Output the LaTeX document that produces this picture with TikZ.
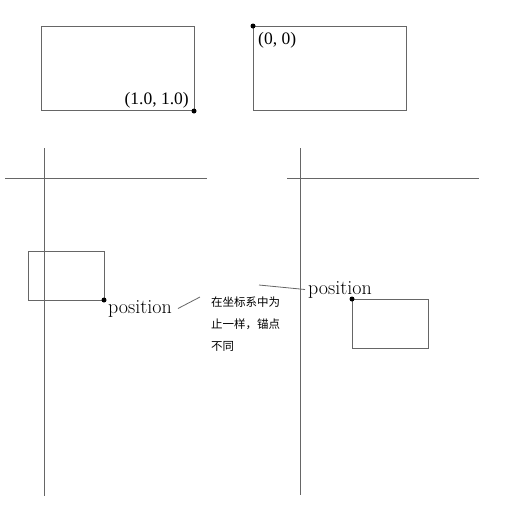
\documentclass[tikz,border=0pt]{standalone}
\usepackage{fontspec}
\newfontfamily\cjk{Noto Sans CJK SC}
\newfontfamily\tms{Liberation Serif}
\usetikzlibrary{positioning}

\begin{document}
\begin{tikzpicture}[
                    x=1pt,
                    y=-1pt,
                    frame/.style={draw=black!60, line width=0.8pt},
                    dot/.style={circle, fill=black, inner sep=0pt, minimum size=5pt},
                    lbl/.style={font=\tms\fontsize{17.5}{20}\selectfont, inner sep=2pt},
                    poslabel/.style={font=\fontsize{20}{22}\selectfont, inner sep=1pt},
                    note/.style={font=\cjk\fontsize{11.5}{22}\selectfont, align=left, inner sep=0pt}
                ]
                \useasboundingbox (0,0) rectangle (511,509);

                % anchor at the bottom right
                \draw[frame] (41,26) rectangle (194,110);
                \node[dot] (A) at (194,111) {};
                \node[lbl, anchor=south east] (Alabel) at (191,110) {(1.0, 1.0)};

                % anchor at the top left
                \draw[frame] (253,26) rectangle (406,110);
                \node[dot] (B) at (253,26) {};
                \node[lbl, anchor=north west] (Blabel) at (256,30) {(0, 0)};

                % left axes
                \draw[frame] (44,148) -- (44,496);
                \draw[frame] (5,178) -- (207,178);
                \draw[frame] (28,251) rectangle (104,300);
                \node[dot] (P1) at (104,300) {};
                \node[poslabel, anchor=base west] (pos1) at (107,313) {position};

                % right axes
                \draw[frame] (300,148) -- (300,495);
                \draw[frame] (287,178) -- (479,178);
                \draw[frame] (352,299) rectangle (428,348);
                \node[dot] (P2) at (352,299) {};
                \node[poslabel, anchor=base] (pos2) at (340,294) {position};

                % note
                \node[note, anchor=north west] (N) at (211,297) {在坐标系中为\\止一样，锚点\\不同};
                \coordinate (c1) at (200,297);
                \coordinate (c2) at (259,285);

                \path[frame]
                ([xshift=5pt]pos1.east) edge (c1)
                (c2) edge ([xshift=-2pt]pos2.west)
                ;
            \end{tikzpicture}
\end{document}
